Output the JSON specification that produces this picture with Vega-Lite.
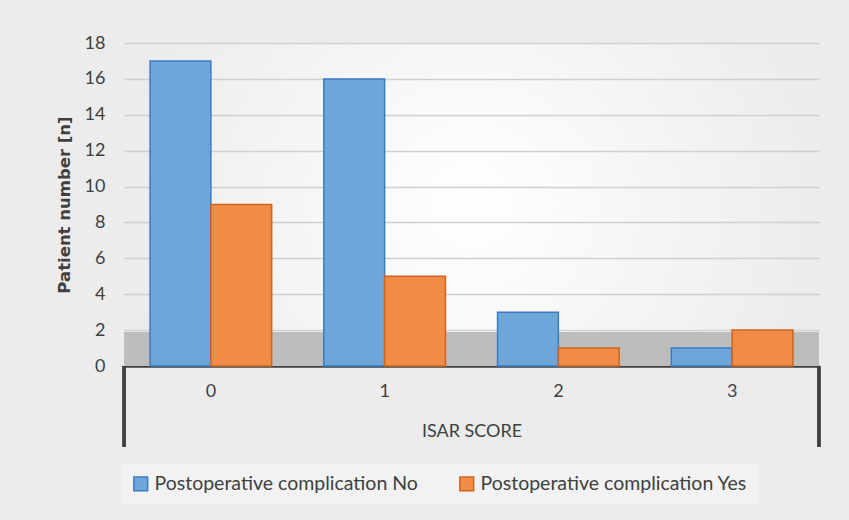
{
  "$schema": "https://vega.github.io/schema/vega-lite/v6.json",
  "width": 695,
  "height": 323,
  "autosize": {"type": "none"},
  "padding": {"left": 124, "top": 43, "right": 30, "bottom": 154},
  "background": "#ececec",
  "config": {
    "font": "Lato",
    "view": {
      "stroke": null,
      "fill": {"gradient": "radial", "stops": [{"offset": 0, "color": "#ffffff"}, {"offset": 1, "color": "#ececec"}]}
    },
    "axisY": {
      "values": [0, 2, 4, 6, 8, 10, 12, 14, 16, 18], "labelOverlap": false,
      "domain": false, "ticks": false, "labelPadding": 19, "labelFontSize": 18, "labelColor": "#404040",
      "grid": true, "gridColor": "#d0d0d0", "gridWidth": 1.5,
      "titleFont": "DejaVu Sans", "titleFontSize": 16.5, "titleFontWeight": "bold", "titleColor": "#404040", "titlePadding": 12
    }
  },
  "data": {
    "values": [
      {"ISAR": "0", "Group": "Postoperative complication No", "n": 17},
      {"ISAR": "0", "Group": "Postoperative complication Yes", "n": 9},
      {"ISAR": "1", "Group": "Postoperative complication No", "n": 16},
      {"ISAR": "1", "Group": "Postoperative complication Yes", "n": 5},
      {"ISAR": "2", "Group": "Postoperative complication No", "n": 3},
      {"ISAR": "2", "Group": "Postoperative complication Yes", "n": 1},
      {"ISAR": "3", "Group": "Postoperative complication No", "n": 1},
      {"ISAR": "3", "Group": "Postoperative complication Yes", "n": 2}
    ]
  },
  "layer": [
    {
      "mark": {"type": "rect", "color": "#bdbdbd"},
      "encoding": {
        "y": {"datum": 0, "type": "quantitative", "scale": {"domain": [0, 18]}, "axis": {"title": "Patient number [n]"}},
        "y2": {"datum": 1.9}
      }
    },
    {
      "mark": {"type": "bar", "strokeWidth": 1.5},
      "encoding": {
        "x": {
          "field": "ISAR", "type": "nominal",
          "scale": {"paddingInner": 0.3, "paddingOuter": 0.15},
          "axis": {
            "title": "ISAR SCORE", "labelAngle": 0, "labelFontSize": 18, "labelColor": "#404040",
            "labelPadding": 16, "ticks": false, "domainColor": "#404040", "domainWidth": 2.5,
            "titleFontSize": 18, "titleFontWeight": "normal", "titleColor": "#404040", "titlePadding": 22
          }
        },
        "xOffset": {"field": "Group", "type": "nominal", "scale": {"paddingInner": 0}},
        "y": {
          "field": "n", "type": "quantitative",
          "scale": {"domain": [0, 18]},
          "axis": {"title": "Patient number [n]"}
        },
        "color": {
          "field": "Group", "type": "nominal",
          "scale": {"domain": ["Postoperative complication No", "Postoperative complication Yes"], "range": ["#6fa6da", "#f08c48"]},
          "legend": {
            "title": null, "orient": "none", "direction": "horizontal", "legendX": -3, "legendY": 421,
            "labelFontSize": 19.5, "labelColor": "#404040", "symbolType": "square", "symbolSize": 190,
            "symbolStrokeWidth": 1.5, "fillColor": "#f2f2f2", "padding": 10, "columnPadding": 38, "labelLimit": 400
          }
        },
        "stroke": {
          "field": "Group", "type": "nominal",
          "scale": {"domain": ["Postoperative complication No", "Postoperative complication Yes"], "range": ["#3a7cc2", "#cf651c"]}
        }
      }
    },
    {
      "mark": {"type": "rule", "color": "#404040", "strokeWidth": 2.5},
      "encoding": {
        "x": {"datum": "0", "bandPosition": -0.214},
        "y": {"datum": 0},
        "y2": {"datum": -4.5}
      }
    },
    {
      "mark": {"type": "rule", "color": "#404040", "strokeWidth": 2.5},
      "encoding": {
        "x": {"datum": "3", "bandPosition": 1.214},
        "y": {"datum": 0},
        "y2": {"datum": -4.5}
      }
    }
  ]
}
